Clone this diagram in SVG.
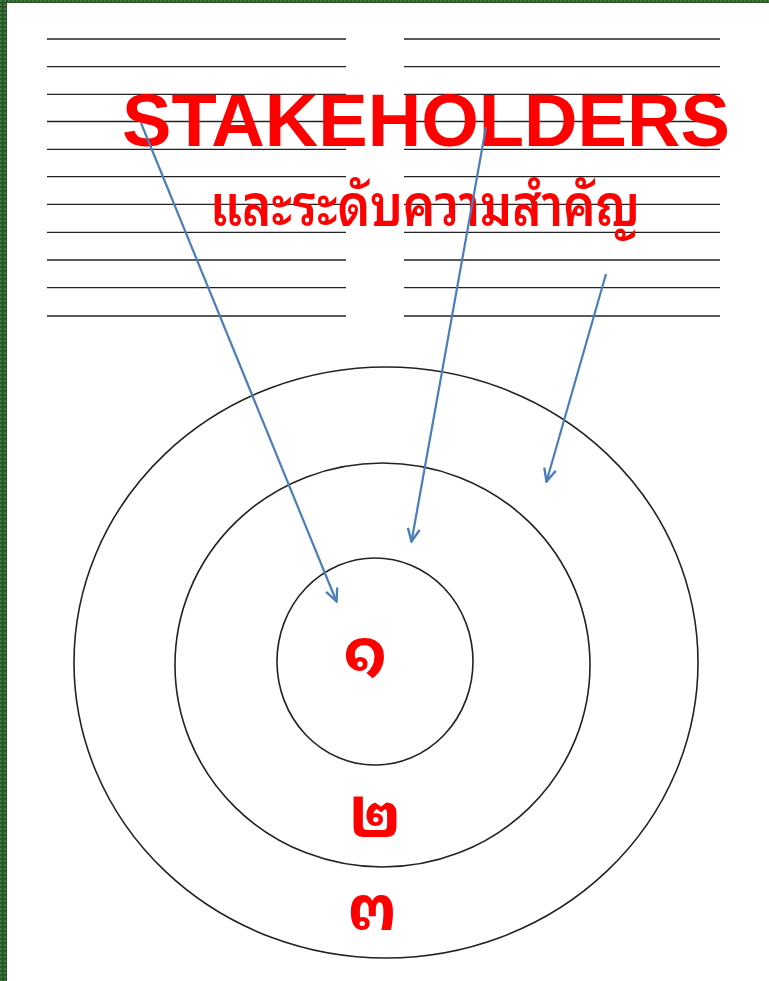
<svg xmlns="http://www.w3.org/2000/svg" width="769" height="981" viewBox="0 0 769 981">
<defs>
<style>
.rule{stroke:#222;stroke-width:1.3}
.ring{fill:none;stroke:#222;stroke-width:1.6}
.arrow{stroke:#4a7ebb;stroke-width:2.2;fill:none;marker-end:url(#head)}
.title{font-family:"Liberation Sans",Arial,sans-serif;font-weight:bold;fill:#ff0000}
.thai{font-family:"Noto Sans Thai Looped","Noto Serif Thai","Noto Sans Thai","Noto Sans","Liberation Sans",sans-serif;fill:#ff0000}
</style>
<pattern id="grn" width="4" height="4" patternUnits="userSpaceOnUse">
<rect width="4" height="4" fill="#2b5a2b"/>
<rect width="2" height="2" fill="#3d7a3d"/>
<rect x="2" y="2" width="1" height="1" fill="#1d3f1d"/>
</pattern>
<marker id="head" viewBox="0 0 20 20" refX="18" refY="10" markerWidth="17" markerHeight="17" markerUnits="userSpaceOnUse" orient="auto">
<path d="M3,3 L18,10 L3,17" fill="none" stroke="#4a7ebb" stroke-width="2.8" stroke-linejoin="miter"/>
</marker>
</defs>
<rect width="769" height="981" fill="#ffffff"/>
<rect x="0" y="0" width="769" height="3" fill="url(#grn)"/>
<rect x="0" y="0" width="7" height="981" fill="url(#grn)"/>
<g id="rules">
<g id="rules-left">
<line class="rule" x1="47" y1="39" x2="346" y2="39"/>
<line class="rule" x1="47" y1="66.7" x2="346" y2="66.7"/>
<line class="rule" x1="47" y1="94.3" x2="346" y2="94.3"/>
<line class="rule" x1="47" y1="121.5" x2="346" y2="121.5"/>
<line class="rule" x1="47" y1="149.3" x2="346" y2="149.3"/>
<line class="rule" x1="47" y1="176.7" x2="346" y2="176.7"/>
<line class="rule" x1="47" y1="204.3" x2="346" y2="204.3"/>
<line class="rule" x1="47" y1="232.3" x2="346" y2="232.3"/>
<line class="rule" x1="47" y1="260" x2="346" y2="260"/>
<line class="rule" x1="47" y1="287.7" x2="346" y2="287.7"/>
<line class="rule" x1="47" y1="316" x2="346" y2="316"/>
</g>
<g id="rules-right">
<line class="rule" x1="404" y1="39" x2="720" y2="39"/>
<line class="rule" x1="404" y1="66.7" x2="720" y2="66.7"/>
<line class="rule" x1="404" y1="94.3" x2="720" y2="94.3"/>
<line class="rule" x1="404" y1="121.5" x2="720" y2="121.5"/>
<line class="rule" x1="404" y1="149.3" x2="720" y2="149.3"/>
<line class="rule" x1="404" y1="176.7" x2="720" y2="176.7"/>
<line class="rule" x1="404" y1="204.3" x2="720" y2="204.3"/>
<line class="rule" x1="404" y1="232.3" x2="720" y2="232.3"/>
<line class="rule" x1="404" y1="260" x2="720" y2="260"/>
<line class="rule" x1="404" y1="287.7" x2="720" y2="287.7"/>
<line class="rule" x1="404" y1="316" x2="720" y2="316"/>
</g>
</g>
<g id="title">
<text class="title" x="122" y="146" font-size="73.5" textLength="608" lengthAdjust="spacingAndGlyphs">STAKEHOLDERS</text>
<text class="thai" x="210" y="226" font-size="58" font-weight="600" textLength="430" lengthAdjust="spacingAndGlyphs">และระดับความสำคัญ</text>
</g>
<g id="ring-outer"><ellipse class="ring" cx="386" cy="662.5" rx="312" ry="295.5"/></g>
<g id="ring-middle"><ellipse class="ring" cx="382.5" cy="665" rx="207.5" ry="202"/></g>
<g id="ring-inner"><ellipse class="ring" cx="375" cy="661.5" rx="98" ry="103.5"/></g>
<g id="labels">
<text class="thai" x="365" y="673" font-size="64" font-weight="bold" text-anchor="middle">๑</text>
<text class="thai" x="375" y="837" font-size="64" font-weight="bold" text-anchor="middle">๒</text>
<text class="thai" x="372" y="930" font-size="64" font-weight="bold" text-anchor="middle">๓</text>
</g>
<g id="connectors">
<line class="arrow" x1="141" y1="123" x2="336.5" y2="601.5"/>
<line class="arrow" x1="486" y1="127" x2="411.5" y2="541.5"/>
<line class="arrow" x1="606" y1="274" x2="546.5" y2="481.5"/>
</g>
</svg>
